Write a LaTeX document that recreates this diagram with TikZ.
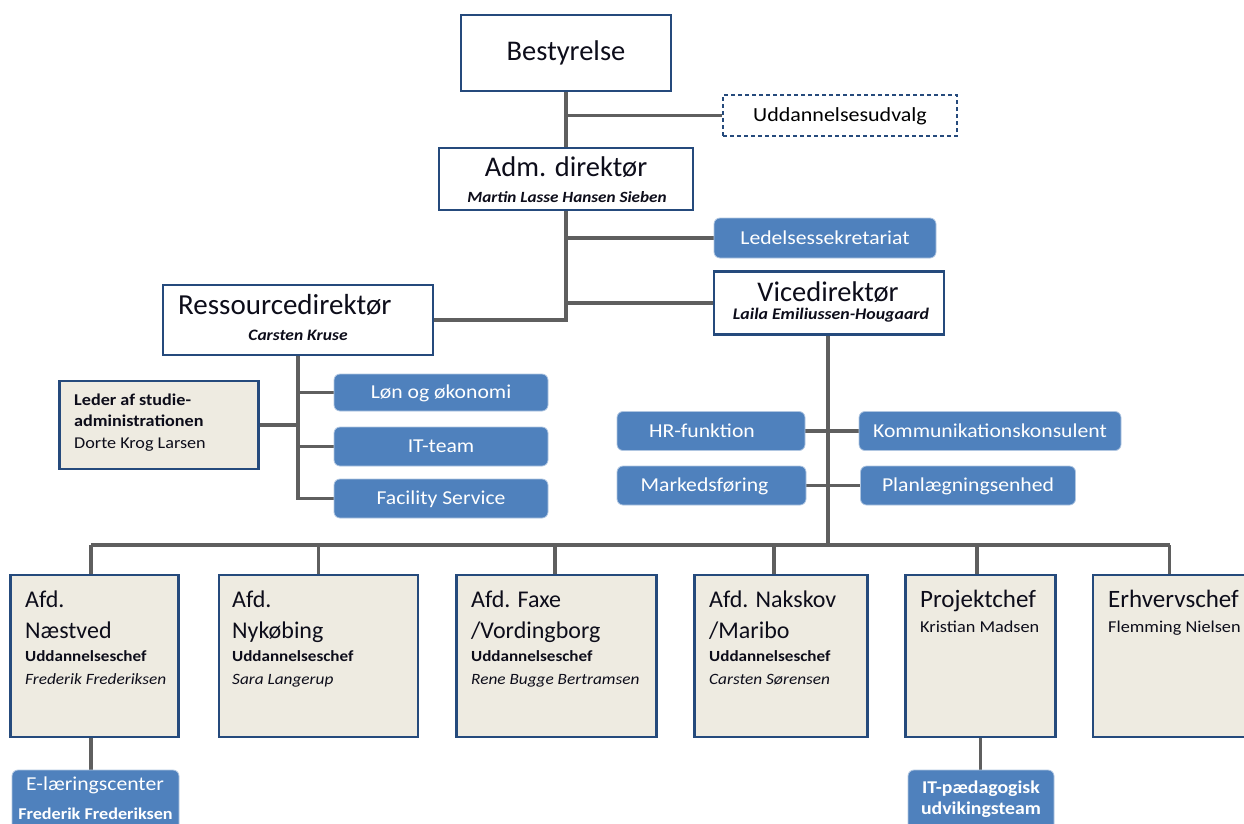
\documentclass[tikz,border=0pt]{standalone}
\usepackage{fontspec}
\setmainfont{Carlito}
\newfontfamily\sm{Carlito}[FakeStretch=1.1]
\definecolor{boxblue}{HTML}{4F81BD}
\definecolor{frameblue}{HTML}{254A7C}
\definecolor{beige}{HTML}{EEEBE1}
\definecolor{linegray}{HTML}{5F5F5F}
\definecolor{inktext}{HTML}{0D0D1A}
\newcommand{\fs}[1]{\fontsize{#1}{#1}\selectfont}
\pgfdeclarelayer{bg}
\pgfsetlayers{bg,main}
\begin{document}
\begin{tikzpicture}[x=1pt,y=-1pt,
  frame/.style={draw=frameblue,line width=2.8pt,fill=white,inner sep=0pt},
  unit/.style={frame,fill=beige},
  bluebox/.style={draw=boxblue!45!white,line width=0.8pt,fill=boxblue,rounded corners=6pt,
     text=white,inner sep=0pt,font=\sm\fs{19.7},text height=12.5pt,text depth=0pt},
  dbox/.style={draw=frameblue,dash pattern=on 4pt off 3pt,line width=1.3pt,inner sep=0pt,
     font=\sm\fs{20},text height=12.5pt,text depth=0pt},
  link/.style={draw=linegray,line width=3.2pt},
  tl/.style={anchor=base west,inner sep=0pt,text=inktext},
  tc/.style={anchor=base,inner sep=0pt,text=inktext},
]
\useasboundingbox (0,0) rectangle (1244,823);

% top level
\node[frame,minimum width=210pt,minimum height=76pt,font=\fs{28.5},text=inktext] (best) at (566,53) {Bestyrelse};
\node[dbox,minimum width=234pt,minimum height=41pt] (udv) at (840,115.5) {Uddannelsesudvalg};
\node[frame,minimum width=254pt,minimum height=62pt] (adm) at (566,179) {};
\node[tc] at (566,176) {\fs{28.5}Adm. direktør};
\node[tc] at (567,202) {\sm\fs{15.6}\bfseries\itshape Martin Lasse Hansen Sieben};
\node[bluebox,minimum width=222pt,minimum height=40pt] (led) at (825,238) {Ledelsessekretariat};

\node[frame,minimum width=230pt,minimum height=63pt] (vice) at (829,303) {};
\node[tc] at (828,301) {\fs{28.5}Vicedirektør};
\node[tc] at (831,319) {\sm\fs{16.2}\bfseries\itshape Laila Emiliussen-Hougaard};

\node[frame,minimum width=270pt,minimum height=70pt] (res) at (298,320) {};
\node[tl] at (178,314) {\fs{29}Ressourcedirektør};
\node[tc] at (298,340) {\sm\fs{15.9}\bfseries\itshape Carsten Kruse};

% ressource branch
\node[unit,minimum width=199pt,minimum height=88pt] (leder) at (159,425) {};
\node[tl] at (74,405) {\sm\fs{16.5}\bfseries Leder af studie-};
\node[tl] at (74,426) {\sm\fs{16.5}\bfseries administrationen};
\node[tl] at (74,448) {\sm\fs{16.5}Dorte Krog Larsen};
\node[bluebox,minimum width=214pt,minimum height=37pt] (lon) at (441,392.5) {Løn og økonomi};
\node[bluebox,minimum width=214pt,minimum height=39pt] (itt) at (441,446.5) {IT-team};
\node[bluebox,minimum width=214pt,minimum height=39pt] (fac) at (441,498.5) {Facility Service};

% vice branch
\node[bluebox,minimum width=188pt,minimum height=39pt] (hr) at (711,431) {HR-funktion\hspace*{18pt}};
\node[bluebox,minimum width=262pt,minimum height=39pt] (kom) at (990,431) {Kommunikationskonsulent};
\node[bluebox,minimum width=189pt,minimum height=39pt] (mark) at (711.5,485.5) {Markedsføring\hspace*{14pt}};
\node[bluebox,minimum width=215pt,minimum height=39pt] (plan) at (968,485.5) {Planlægningsenhed};

% departments
\coordinate (bus) at (0,545);
\node[unit,minimum width=168pt,minimum height=162pt] (nae) at (94.5,656) {};
\node[unit,minimum width=199pt,minimum height=162pt] (nyk) at (318.5,656) {};
\node[unit,minimum width=200pt,minimum height=162pt] (fax) at (556.5,656) {};
\node[unit,minimum width=173pt,minimum height=162pt] (nak) at (781,656) {};
\node[unit,minimum width=150pt,minimum height=162pt] (proj) at (980.5,656) {};
\node[unit,minimum width=153pt,minimum height=162pt] (erh) at (1169.5,656) {};

\node[tl] at (25,607) {\fs{24}Afd.};
\node[tl] at (25,638) {\fs{24}Næstved};
\node[tl] at (25,661) {\sm\fs{15.5}\bfseries Uddannelseschef};
\node[tl] at (25,684) {\sm\fs{15.7}\itshape Frederik Frederiksen};

\node[tl] at (232,607) {\fs{24}Afd.};
\node[tl] at (232,638) {\fs{24}Nykøbing};
\node[tl] at (232,661) {\sm\fs{15.5}\bfseries Uddannelseschef};
\node[tl] at (232,684) {\sm\fs{15.7}\itshape Sara Langerup};

\node[tl] at (471,607) {\fs{24}Afd. Faxe};
\node[tl] at (471,638) {\fs{24}/Vordingborg};
\node[tl] at (471,661) {\sm\fs{15.5}\bfseries Uddannelseschef};
\node[tl] at (471,684) {\sm\fs{15.7}\itshape Rene Bugge Bertramsen};

\node[tl] at (709,607) {\fs{24}Afd. Nakskov};
\node[tl] at (709,638) {\fs{24}/Maribo};
\node[tl] at (709,661) {\sm\fs{15.5}\bfseries Uddannelseschef};
\node[tl] at (709,684) {\sm\fs{15.7}\itshape Carsten Sørensen};

\node[tl] at (920,607) {\fs{25}Projektchef};
\node[tl] at (920,632) {\sm\fs{16.6}Kristian Madsen};
\node[tl] at (1108,607) {\fs{25}Erhvervschef};
\node[tl] at (1108,632) {\sm\fs{16.6}Flemming Nielsen};

\node[bluebox,minimum width=167pt,minimum height=62pt,text height=,text depth=] (elc) at (95.5,801) {};
\node[tc,text=white] at (95,790) {\sm\fs{19.7}E-læringscenter};
\node[tc,text=white] at (95.5,819) {\sm\fs{16.5}\bfseries Frederik Frederiksen};
\node[bluebox,minimum width=146pt,minimum height=62pt,text height=,text depth=] (itp) at (981,801) {};
\node[tc,text=white] at (981,793) {\sm\fs{18}\bfseries IT-pædagogisk};
\node[tc,text=white] at (981,814) {\sm\fs{18}\bfseries udvikingsteam};

% connectors
\begin{pgfonlayer}{bg}
\draw[link] (best.south) -- (best.south |- adm.north);
\draw[link] (best.south |- udv.west) -- (udv.west);
\draw[link] (adm.south) -- (adm.south |- res.east) -- (res.east);
\draw[link] (adm.south |- led.west) -- (led.west);
\draw[link] (adm.south |- vice.west) -- (vice.west);
\draw[link] (res.south) -- (res.south |- fac.west) -- (fac.west);
\draw[link] (res.south |- lon.west) -- (lon.west);
\draw[link] (res.south |- itt.west) -- (itt.west);
\draw[link] (leder.east) -- (leder.east -| res.south);
\draw[link] ([xshift=-1pt]vice.south) -- ([xshift=-1pt]vice.south |- bus);
\draw[link] (hr.east) -- (kom.west);
\draw[link] (mark.east) -- (plan.west);
\draw[link] ([xshift=-3.5pt]nae.north |- bus) -- (erh.north |- bus);
\draw[link] ([xshift=-3.5pt]nae.north) -- ([xshift=-3.5pt]nae.north |- bus);
\draw[link] (nyk.north) -- (nyk.north |- bus);
\draw[link] ([xshift=-1.5pt]fax.north) -- ([xshift=-1.5pt]fax.north |- bus);
\draw[link] ([xshift=-7pt]nak.north) -- ([xshift=-7pt]nak.north |- bus);
\draw[link] ([xshift=-3.5pt]proj.north) -- ([xshift=-3.5pt]proj.north |- bus);
\draw[link] (erh.north) -- (erh.north |- bus);
\draw[link] ([xshift=-3.5pt]nae.south) -- ([xshift=-3.5pt]nae.south |- elc.north);
\draw[link] (proj.south) -- (proj.south |- itp.north);
\end{pgfonlayer}
\end{tikzpicture}
\end{document}
